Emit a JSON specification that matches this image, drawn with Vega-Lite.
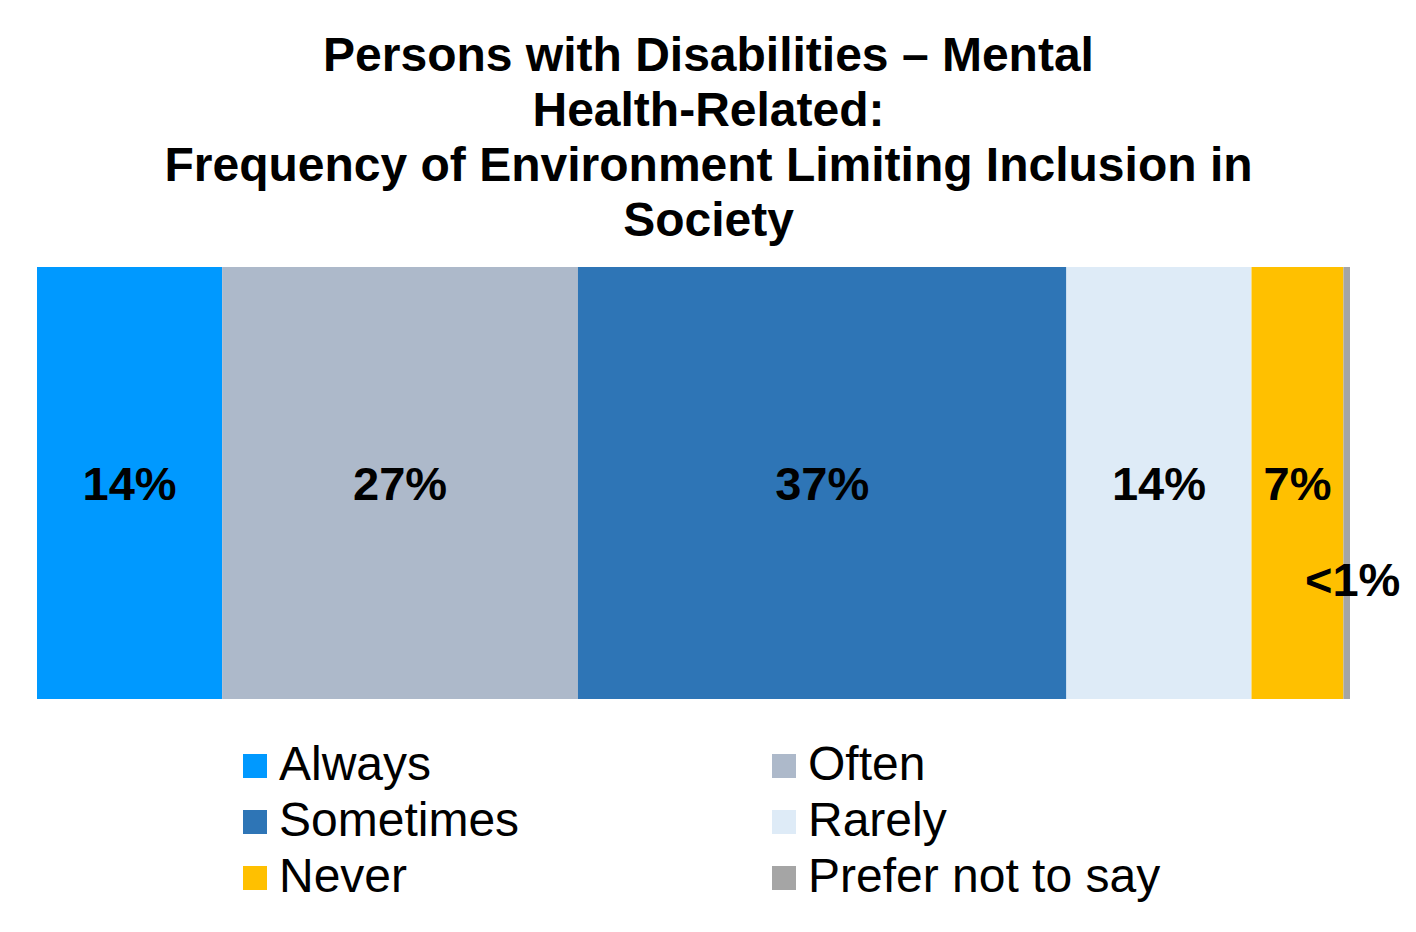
{
  "$schema": "https://vega.github.io/schema/vega-lite/v6.json",
  "autosize": {"type": "none"},
  "width": 1313,
  "height": 432,
  "padding": {"top": 267, "left": 37, "right": 66, "bottom": 233},
  "background": "white",
  "config": {"view": {"stroke": null}, "font": "Liberation Sans"},
  "title": {
    "text": ["Persons with Disabilities – Mental", "Health-Related:", "Frequency of Environment Limiting Inclusion in", "Society"],
    "anchor": "middle",
    "frame": "group",
    "fontSize": 48,
    "lineHeight": 55,
    "fontWeight": "bold",
    "color": "black",
    "font": "Liberation Sans",
    "dx": 15,
    "offset": 21
  },
  "data": {
    "values": [
      {"category": "Always", "value": 14.1, "order": 1, "label": "14%"},
      {"category": "Often", "value": 27.1, "order": 2, "label": "27%"},
      {"category": "Sometimes", "value": 37.2, "order": 3, "label": "37%"},
      {"category": "Rarely", "value": 14.1, "order": 4, "label": "14%"},
      {"category": "Never", "value": 7.0, "order": 5, "label": "7%"},
      {"category": "Prefer not to say", "value": 0.5, "order": 6, "label": "<1%"}
    ]
  },
  "transform": [
    {"stack": "value", "groupby": [], "sort": [{"field": "order", "order": "ascending"}], "as": ["v0", "v1"]},
    {"calculate": "(datum.v0 + datum.v1) / 2", "as": "mid"}
  ],
  "encoding": {
    "y": {"datum": "all", "type": "nominal", "scale": {"paddingInner": 0, "paddingOuter": 0}, "axis": null}
  },
  "layer": [
    {
      "mark": {"type": "bar", "stroke": null},
      "encoding": {
        "x": {"field": "v0", "type": "quantitative", "scale": {"domain": [0, 100], "nice": false, "zero": true}, "axis": null},
        "x2": {"field": "v1"},
        "color": {
          "field": "category",
          "type": "nominal",
          "scale": {
            "domain": ["Always", "Often", "Sometimes", "Rarely", "Never", "Prefer not to say"],
            "range": ["#0099FF", "#ADB9CA", "#2E75B6", "#DEEBF7", "#FFC000", "#A5A5A5"]
          },
          "legend": {
            "title": null,
            "orient": "none",
            "direction": "horizontal",
            "legendX": 194,
            "legendY": 475,
            "columns": 2,
            "columnPadding": 240,
            "rowPadding": 8,
            "padding": 0,
            "symbolType": "square",
            "symbolSize": 576,
            "symbolStrokeWidth": 0,
            "symbolOpacity": 1,
            "labelFontSize": 48,
            "labelFont": "Liberation Sans",
            "labelColor": "black",
            "labelOffset": 0,
            "labelLimit": 600
          }
        }
      }
    },
    {
      "transform": [{"filter": "datum.category !== 'Prefer not to say'"}],
      "mark": {"type": "text", "fontSize": 47, "fontWeight": "bold", "color": "black", "align": "center", "baseline": "middle", "dy": 3, "font": "Liberation Sans"},
      "encoding": {
        "x": {"field": "mid", "type": "quantitative", "scale": {"domain": [0, 100], "nice": false, "zero": true}},
        "text": {"field": "label"}
      }
    },
    {
      "transform": [{"filter": "datum.category === 'Prefer not to say'"}],
      "mark": {"type": "text", "fontSize": 47, "fontWeight": "bold", "color": "black", "align": "center", "baseline": "middle", "dy": 99, "dx": 6, "font": "Liberation Sans"},
      "encoding": {
        "x": {"field": "mid", "type": "quantitative", "scale": {"domain": [0, 100], "nice": false, "zero": true}},
        "text": {"field": "label"}
      }
    }
  ]
}
